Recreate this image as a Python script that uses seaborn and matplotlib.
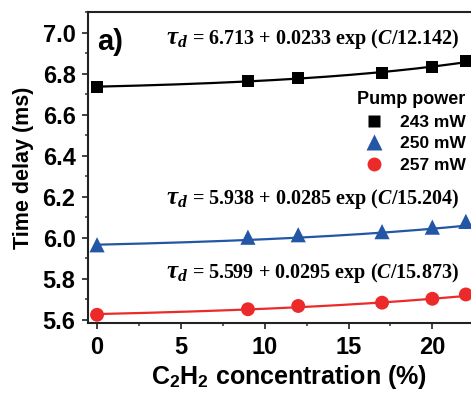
import numpy as np
import pandas as pd
import matplotlib
matplotlib.use('Agg')
import matplotlib.pyplot as plt
import seaborn as sns
from matplotlib.ticker import MultipleLocator

# measured time delays (ms) vs C2H2 concentration (%)
conc = [0, 9, 12, 17, 20, 22]
delay_243 = [6.735, 6.766, 6.780, 6.805, 6.830, 6.860]
delay_250 = [5.966, 6.003, 6.015, 6.030, 6.052, 6.080]
delay_257 = [5.625, 5.652, 5.668, 5.684, 5.703, 5.724]
powers = ['243 mW', '250 mW', '257 mW']

# exponential fit parameters: tau = a + b*exp(C/t)
fit_a = [6.713, 5.938, 5.599]
fit_b = [0.0233, 0.0285, 0.0295]
fit_t = [12.142, 15.204, 15.873]

colors = ['#000000', '#2456a6', '#ec2a2a']
markers = ['s', '^', 'o']
msizes = [75, 120, 100]

sns.set_theme(style='ticks')
plt.rcParams['font.family'] = ['Liberation Sans', 'DejaVu Sans']
plt.rcParams['font.weight'] = 'bold'
plt.rcParams['text.color'] = 'black'
plt.rcParams['xtick.color'] = 'black'
plt.rcParams['ytick.color'] = 'black'
plt.rcParams['axes.labelcolor'] = 'black'
plt.rcParams['mathtext.fontset'] = 'custom'
plt.rcParams['mathtext.rm'] = 'Liberation Serif:bold'
plt.rcParams['mathtext.it'] = 'Liberation Serif:bold:italic'
plt.rcParams['mathtext.bf'] = 'Liberation Sans:bold'

df = pd.DataFrame({
    'conc': conc * 3,
    'delay': delay_243 + delay_250 + delay_257,
    'Pump power': [p for p in powers for _ in conc],
})

fig = plt.figure(figsize=(4.71, 3.94), dpi=100)
ax = fig.add_axes([88 / 471, 71 / 394, 403 / 471, 311 / 394])

cgrid = np.linspace(0, 23.5, 200)
for a, b, t, c in zip(fit_a, fit_b, fit_t, colors):
    sns.lineplot(x=cgrid, y=a + b * np.exp(cgrid / t), color=c, lw=1.6, ax=ax)

sns.scatterplot(data=df, x='conc', y='delay', hue='Pump power', style='Pump power',
                size='Pump power', sizes=dict(zip(powers, msizes)),
                palette=dict(zip(powers, colors)), markers=dict(zip(powers, markers)),
                edgecolor='none', ax=ax, zorder=3)

ax.set_xlim(-0.54, 23.5)
ax.set_ylim(5.585, 7.1)
ax.xaxis.set_major_locator(MultipleLocator(5))
ax.xaxis.set_minor_locator(MultipleLocator(2.5))
ax.yaxis.set_major_locator(MultipleLocator(0.2))
ax.yaxis.set_minor_locator(MultipleLocator(0.1))
ax.yaxis.set_major_formatter(matplotlib.ticker.FormatStrFormatter('%.1f'))
ax.tick_params(which='major', length=4, width=1.3, labelsize=17, pad=5, color='#333333')
ax.tick_params(which='minor', length=2.5, width=1.1, color='#333333')
for lab in ax.get_xticklabels() + ax.get_yticklabels():
    lab.set_fontweight('bold')
for sp in ax.spines.values():
    sp.set_linewidth(1.5)
    sp.set_color('#222222')

ax.set_xlabel(r'C$_\mathbf{2}$H$_\mathbf{2}$ concentration (%)', fontsize=18, fontweight='bold', labelpad=3)
ax.set_ylabel('Time delay (ms)', fontsize=15.5, fontweight='bold', labelpad=6)

leg = ax.legend(title='Pump power', frameon=False, fontsize=12.5, title_fontsize=13,
                loc='upper right', bbox_to_anchor=(473 / 471, 1 - 84 / 394),
                bbox_transform=fig.transFigure, handletextpad=0.5, labelspacing=0.38,
                borderaxespad=0, markerscale=1.0)
leg.get_title().set_fontweight('bold')
for txt in leg.get_texts():
    txt.set_fontweight('bold')

fig.text(97 / 471, 1 - 50 / 394, 'a)', fontsize=21, fontweight='bold', va='baseline')

eqs = [(6.713, 0.0233, 12.142, 44), (5.938, 0.0285, 15.204, 204), (5.599, 0.0295, 15.873, 278)]
for a, b, t, ybase in eqs:
    fig.text(166 / 471, 1 - ybase / 394, r'$\tau_d$', fontsize=18, va='baseline', ha='left')
    fig.text(192 / 471, 1 - ybase / 394,
             '= %.3f + %.4f exp ($C$/%.3f)' % (a, b, t),
             family='Liberation Serif', fontweight='bold', fontsize=14.5,
             va='baseline', ha='left')

fig.savefig('out.png', dpi=100)
